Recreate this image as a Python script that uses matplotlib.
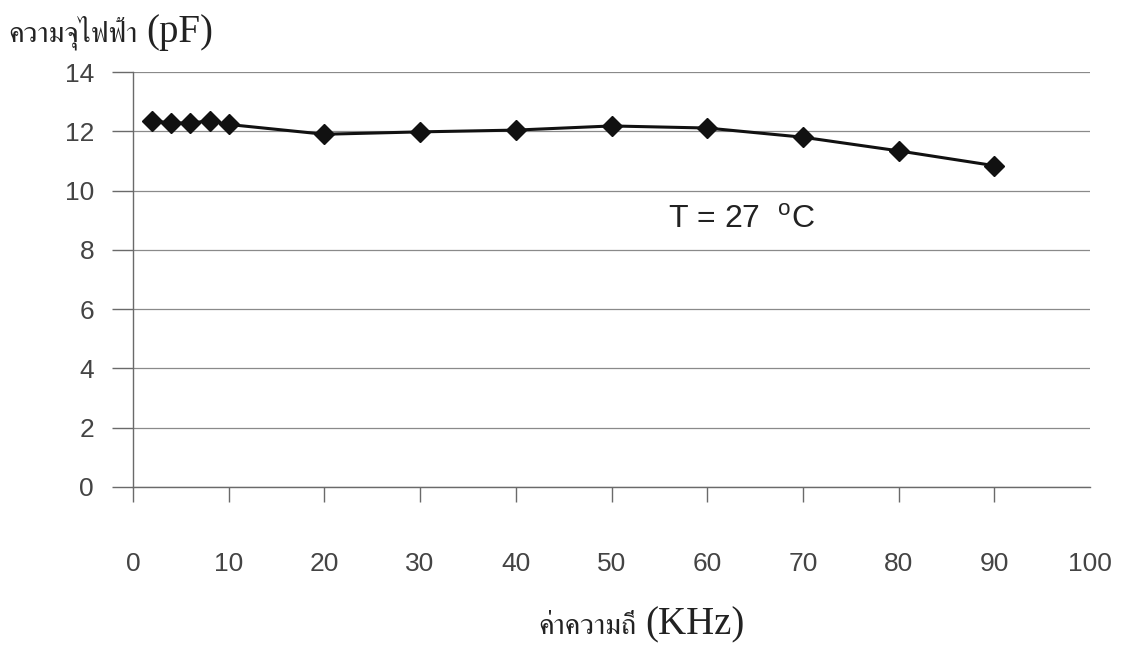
import matplotlib
matplotlib.use("Agg")
import matplotlib.pyplot as plt
from matplotlib import font_manager
from fontTools.ttLib import TTFont

# Measured capacitance against frequency at T = 27 °C
freq_khz = [2, 4, 6, 8, 10, 20, 30, 40, 50, 60, 70, 80, 90]
capacitance_pf = [12.35, 12.28, 12.28, 12.35, 12.23, 11.90, 11.98, 12.04,
                  12.18, 12.11, 11.80, 11.34, 10.84]
x_ticks = [0, 10, 20, 30, 40, 50, 60, 70, 80, 90, 100]
y_ticks = [0, 2, 4, 6, 8, 10, 12, 14]


def thai_families():
    found = []
    for f in font_manager.fontManager.ttflist:
        try:
            cmap = TTFont(f.fname, fontNumber=0, lazy=True).getBestCmap()
        except Exception:
            continue
        if cmap and ord("ค") in cmap and f.name not in found:
            found.append(f.name)
    # looped / serif Thai faces first
    found.sort(key=lambda n: (("Looped" not in n) and ("Serif" not in n), n))
    return found


thai = thai_families()
thai_fam = thai + ["DejaVu Sans"]

plt.rcParams["mathtext.fontset"] = "custom"
plt.rcParams["mathtext.rm"] = "Liberation Sans"

W, H = 1121, 645
fig = plt.figure(figsize=(W / 100, H / 100), dpi=100)
ax = fig.add_axes([133 / W, 1 - 487 / H, (1090 - 133) / W, (487 - 72) / H])

ax.plot(freq_khz, capacitance_pf, color="#111111", lw=2.2, marker="D",
        ms=10.5, mfc="#111111", mec="#111111", zorder=3, clip_on=False)

ax.set_xlim(0, 100)
ax.set_ylim(0, 14)
ax.set_xticks(x_ticks)
ax.set_yticks(y_ticks)
ax.grid(axis="y", color="#8a8a8a", lw=0.9)
ax.set_axisbelow(True)
for s in ("top", "right"):
    ax.spines[s].set_visible(False)
for s in ("left", "bottom"):
    ax.spines[s].set_color("#6a6a6a")
    ax.spines[s].set_linewidth(1.0)

ax.tick_params(axis="x", direction="out", length=11, width=1, color="#6a6a6a",
               pad=36, labelsize=19, labelcolor="#444444")
ax.tick_params(axis="y", direction="out", length=15, width=1, color="#6a6a6a",
               pad=13, labelsize=19, labelcolor="#444444")
ax.xaxis.get_major_ticks()[-1].tick1line.set_visible(False)
for lab in ax.get_xticklabels() + ax.get_yticklabels():
    lab.set_fontfamily("Liberation Sans")

ax.text((668 - 133) / 957, (487 - 220) / 415, r"T = 27  $^{\rm o}$C",
        transform=ax.transAxes, fontsize=23, family="Liberation Sans",
        color="#222222", va="center")

renderer = fig.canvas.get_renderer()


def mixed_label(x_px, base_px, thai_txt, latin_txt):
    t = fig.text(x_px / W, 1 - base_px / H, thai_txt, family=thai_fam,
                 fontsize=21, color="#222222", va="baseline", ha="left")
    x1 = t.get_window_extent(renderer).x1
    fig.text((x1 + 9) / W, 1 - base_px / H, latin_txt,
             family="Liberation Serif", fontsize=28, color="#222222",
             va="baseline", ha="left")


mixed_label(8, 42, "ความจุไฟฟ้า", "(pF)")
mixed_label(538, 634, "ค่าความถี่", "(KHz)")

fig.savefig("out.png", dpi=100, facecolor="white")
